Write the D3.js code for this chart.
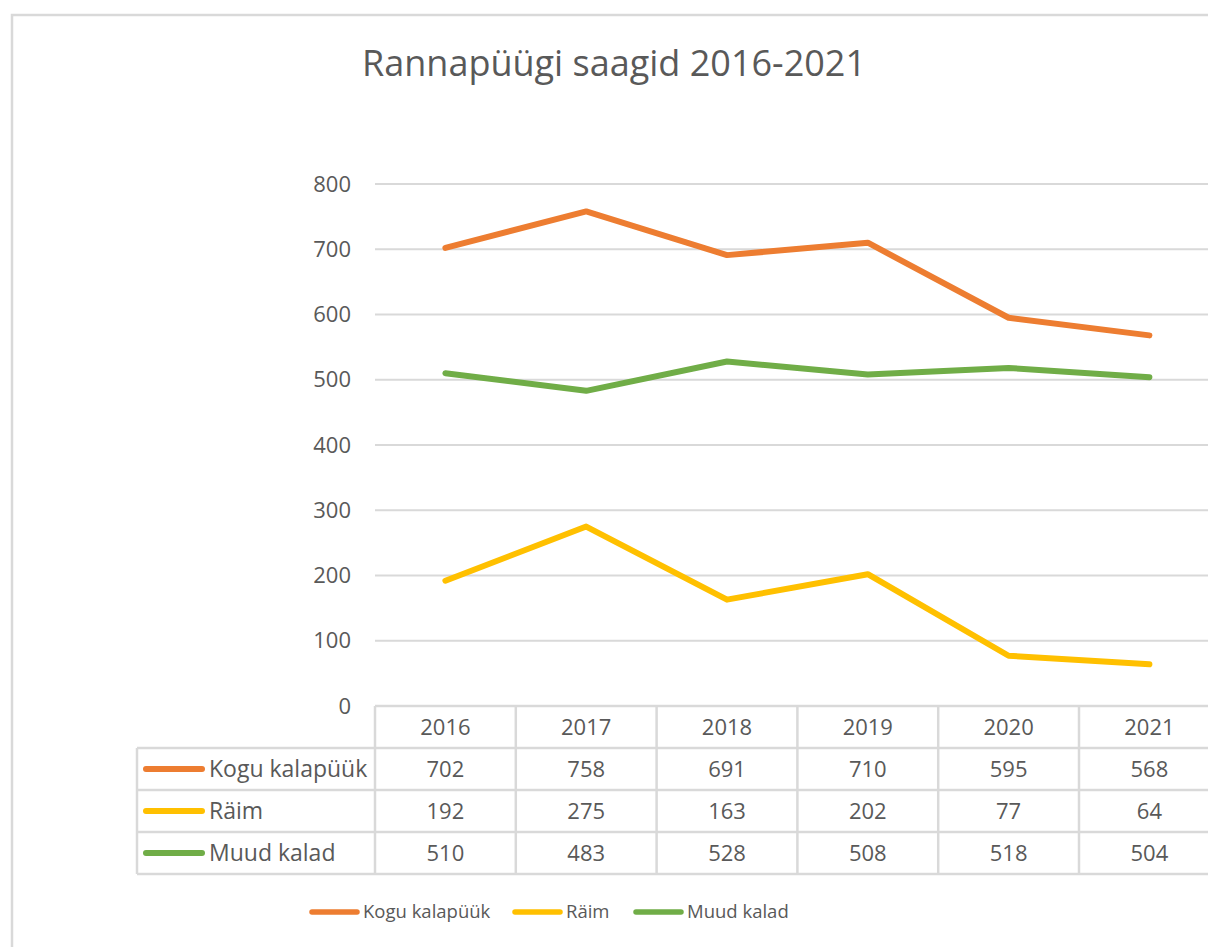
<!DOCTYPE html>
<html>
<head>
<meta charset="utf-8">
<script src="https://cdn.jsdelivr.net/npm/d3@7"></script>
<style>
  body { margin: 0; background: #fff; overflow: hidden; }
  text { font-family: "Open Sans", "Noto Sans", sans-serif; fill: #595959; }
</style>
</head>
<body>
<div id="chart"></div>
<script>
// Data
const years = ['2016', '2017', '2018', '2019', '2020', '2021']
const seriesNames = ['Kogu kalapüük', 'Räim', 'Muud kalad']
const koguValues = [702, 758, 691, 710, 595, 568]
const raimValues = [192, 275, 163, 202, 77, 64]
const muudValues = [510, 483, 528, 508, 518, 504]
const seriesColors = ['#ED7D31', '#FFC000', '#70AD47']
const yTicks = [0, 100, 200, 300, 400, 500, 600, 700, 800]

const series = seriesNames.map((name, i) => ({
  name,
  color: seriesColors[i],
  values: [koguValues, raimValues, muudValues][i]
}))

// Dimensions
const dims = {
  width: 1208,
  height: 947,
  plotLeft: 375,
  plotTop: 184,
  plotBottom: 706,
  colWidth: 140.8,
  rowHeight: 42,
  tableLeft: 137
}
dims.plotRight = dims.plotLeft + dims.colWidth * years.length

const svg = d3.select('#chart')
  .append('svg')
  .attr('width', dims.width)
  .attr('height', dims.height)

// outer chart border (cropped on right/bottom)
svg.append('rect')
  .attr('x', 12).attr('y', 15)
  .attr('width', 1300).attr('height', 1000)
  .attr('fill', 'none')
  .attr('stroke', '#d9d9d9')
  .attr('stroke-width', 2.5)

// title
svg.append('text')
  .attr('x', 614).attr('y', 76)
  .attr('text-anchor', 'middle')
  .style('font-size', '36px')
  .text('Rannapüügi saagid 2016-2021')

// Scales
const xScale = d3.scaleBand()
  .domain(years)
  .range([dims.plotLeft, dims.plotRight])
  .padding(0)

const yScale = d3.scaleLinear()
  .domain([0, 800])
  .range([dims.plotBottom, dims.plotTop])

// gridlines
svg.append('g')
  .selectAll('line')
  .data(yTicks.filter(d => d > 0))
  .join('line')
  .attr('x1', dims.plotLeft).attr('x2', dims.plotRight)
  .attr('y1', d => yScale(d)).attr('y2', d => yScale(d))
  .attr('stroke', '#d9d9d9')
  .attr('stroke-width', 2)

// y axis labels
const yAxis = d3.axisLeft(yScale).tickValues(yTicks).tickSize(0).tickPadding(24)
const yAxisG = svg.append('g')
  .attr('transform', `translate(${dims.plotLeft}, 0)`)
  .call(yAxis)
yAxisG.select('.domain').remove()
yAxisG.selectAll('text')
  .style('font-size', '22px')
  .style('font-family', '"Open Sans", sans-serif')
  .attr('fill', '#595959')

// lines
const line = d3.line()
  .x((d, i) => xScale(years[i]) + xScale.bandwidth() / 2)
  .y(d => yScale(d))

svg.append('g')
  .selectAll('path')
  .data(series)
  .join('path')
  .attr('d', d => line(d.values))
  .attr('fill', 'none')
  .attr('stroke', d => d.color)
  .attr('stroke-width', 6)
  .attr('stroke-linejoin', 'round')
  .attr('stroke-linecap', 'round')

// data table
const table = svg.append('g')
const tableStroke = '#d9d9d9'
const rowY = i => dims.plotBottom + dims.rowHeight * i // top of row i (0 = header)
const nRows = series.length + 1

// horizontal lines
table.append('line')
  .attr('x1', dims.plotLeft).attr('x2', dims.plotRight)
  .attr('y1', rowY(0)).attr('y2', rowY(0))
  .attr('stroke', tableStroke).attr('stroke-width', 2.5)
table.selectAll('.hline')
  .data(d3.range(1, nRows + 1))
  .join('line')
  .attr('x1', dims.tableLeft).attr('x2', dims.plotRight)
  .attr('y1', d => rowY(d)).attr('y2', d => rowY(d))
  .attr('stroke', tableStroke).attr('stroke-width', 2.5)

// vertical lines
table.selectAll('.vline')
  .data(years.concat(['end']))
  .join('line')
  .attr('x1', (d, i) => dims.plotLeft + i * xScale.bandwidth())
  .attr('x2', (d, i) => dims.plotLeft + i * xScale.bandwidth())
  .attr('y1', rowY(0)).attr('y2', rowY(nRows))
  .attr('stroke', tableStroke).attr('stroke-width', 2.5)
table.append('line')
  .attr('x1', dims.tableLeft).attr('x2', dims.tableLeft)
  .attr('y1', rowY(1)).attr('y2', rowY(nRows))
  .attr('stroke', tableStroke).attr('stroke-width', 2.5)

// header years
table.selectAll('.year')
  .data(years)
  .join('text')
  .attr('x', d => xScale(d) + xScale.bandwidth() / 2)
  .attr('y', rowY(0) + dims.rowHeight / 2)
  .attr('dy', '0.35em')
  .attr('text-anchor', 'middle')
  .style('font-size', '22px')
  .text(d => d)

// rows
const rows = table.selectAll('.row')
  .data(series)
  .join('g')
  .attr('transform', (d, i) => `translate(0, ${rowY(i + 1) + dims.rowHeight / 2})`)

rows.append('line')
  .attr('x1', 146).attr('x2', 202)
  .attr('stroke', d => d.color)
  .attr('stroke-width', 6)
  .attr('stroke-linecap', 'round')
rows.append('text')
  .attr('x', 209)
  .attr('dy', '0.35em')
  .style('font-size', '23px')
  .text(d => d.name)
rows.selectAll('.val')
  .data(d => d.values)
  .join('text')
  .attr('x', (d, i) => xScale(years[i]) + xScale.bandwidth() / 2)
  .attr('dy', '0.35em')
  .attr('text-anchor', 'middle')
  .style('font-size', '22px')
  .text(d => d)

// legend
const legendX = [312, 515, 636]
const legend = svg.append('g')
  .selectAll('g')
  .data(series)
  .join('g')
  .attr('transform', (d, i) => `translate(${legendX[i]}, 912)`)
legend.append('line')
  .attr('x1', 0).attr('x2', 45)
  .attr('stroke', d => d.color)
  .attr('stroke-width', 5.5)
  .attr('stroke-linecap', 'round')
legend.append('text')
  .attr('x', 51)
  .attr('dy', '0.35em')
  .style('font-size', '18.5px')
  .text(d => d.name)
</script>
</body>
</html>
